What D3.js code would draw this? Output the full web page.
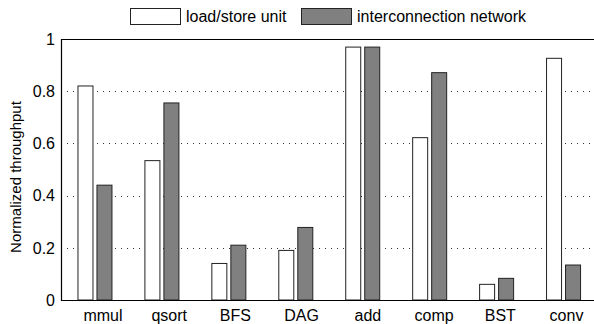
<html>
<head>
<meta charset="utf-8">
<title>Normalized throughput</title>
<style>
  body { margin: 0; background: #fff; }
  text { font-family: "Liberation Sans", Arial, Helvetica, sans-serif; fill: #000; }
</style>
</head>
<body>
<script src="https://cdn.jsdelivr.net/npm/d3@7/dist/d3.min.js"></script>
<script>

// data
var categories = ["mmul", "qsort", "BFS", "DAG", "add", "comp", "BST", "conv"];
var seriesNames = ["load/store unit", "interconnection network"];
var loadStore = [0.82, 0.534, 0.14, 0.19, 0.969, 0.622, 0.06, 0.926];
var interconnect = [0.44, 0.755, 0.21, 0.278, 0.969, 0.871, 0.083, 0.134];
var yTicks = [0, 0.2, 0.4, 0.6, 0.8, 1];
var colors = ["#ffffff", "#808080"];

var width = 594, height = 324;
var plotLeft = 61, plotTop = 39, plotBottom = 300;

var svg = d3.select("body").append("svg")
    .attr("width", width)
    .attr("height", height);

var y = d3.scaleLinear().domain([0, 1]).range([plotBottom, plotTop]);

// bars: one band per benchmark, two sub-bands inside
var x0 = d3.scaleBand().domain(categories).range([plotLeft, plotLeft + 8 * 66.94]).padding(0);
var x1 = d3.scaleBand().domain(seriesNames)
    .range([x0.bandwidth() / 2 - 17, x0.bandwidth() / 2 + 17])
    .paddingInner(0.2105);
// the tick labels sit a little off the group centres in the original
var xLabel = d3.scalePoint().domain(categories).range([103, 566.5]);

// dotted grid
svg.append("g")
    .selectAll("line")
    .data(yTicks.filter(function(d) { return d > 0 && d < 1; }))
    .enter().append("line")
    .attr("x1", plotLeft)
    .attr("x2", width + 5)
    .attr("y1", function(d) { return Math.round(y(d)) + 0.5; })
    .attr("y2", function(d) { return Math.round(y(d)) + 0.5; })
    .attr("stroke", "#333")
    .attr("stroke-width", 1)
    .attr("stroke-dasharray", "1,5");

var rows = categories.map(function(c, i) {
    return { cat: c, vals: [loadStore[i], interconnect[i]] };
});

var groups = svg.append("g")
    .selectAll("g")
    .data(rows)
    .enter().append("g")
    .attr("transform", function(d) { return "translate(" + x0(d.cat) + ",0)"; });

groups.selectAll("rect")
    .data(function(d) {
        return d.vals.map(function(v, j) { return { name: seriesNames[j], v: v, j: j }; });
    })
    .enter().append("rect")
    .attr("x", function(d) { return x1(d.name) + 0.5; })
    .attr("y", function(d) { return y(d.v); })
    .attr("width", x1.bandwidth())
    .attr("height", function(d) { return plotBottom - y(d.v); })
    .attr("fill", function(d) { return colors[d.j]; })
    .attr("stroke", "#222")
    .attr("stroke-width", 1);

// frame: left, bottom, top
svg.append("path")
    .attr("d", "M" + (width + 5) + "," + (plotTop + 0.5) + "H" + (plotLeft + 0.5) + "V" + (plotBottom + 0.5) + "H" + (width + 5))
    .attr("fill", "none")
    .attr("stroke", "#000")
    .attr("stroke-width", 1.2);

// y tick labels
svg.append("g")
    .selectAll("text")
    .data(yTicks)
    .enter().append("text")
    .attr("x", 55)
    .attr("y", function(d) { return y(d); })
    .attr("dy", "0.36em")
    .attr("text-anchor", "end")
    .style("font-size", "16px")
    .text(function(d) { return d3.format("")(d); });

// x labels
svg.append("g")
    .selectAll("text")
    .data(categories)
    .enter().append("text")
    .attr("x", function(d) { return xLabel(d); })
    .attr("y", 321)
    .attr("text-anchor", "middle")
    .style("font-size", "16px")
    .text(function(d) { return d; });

// y axis title
svg.append("text")
    .attr("transform", "translate(21,177) rotate(-90)")
    .attr("text-anchor", "middle")
    .style("font-size", "15px")
    .text("Normalized throughput");

// legend
var legendX = [130, 301];
var legend = svg.append("g")
    .selectAll("g")
    .data(seriesNames)
    .enter().append("g")
    .attr("transform", function(d, i) { return "translate(" + legendX[i] + ",8)"; });

legend.append("rect")
    .attr("x", 0.5)
    .attr("y", 0.5)
    .attr("width", 50)
    .attr("height", 16)
    .attr("fill", function(d, i) { return colors[i]; })
    .attr("stroke", "#222");

legend.append("text")
    .attr("x", 56)
    .attr("y", 14)
    .style("font-size", "16px")
    .text(function(d) { return d; });

</script>
</body>
</html>
